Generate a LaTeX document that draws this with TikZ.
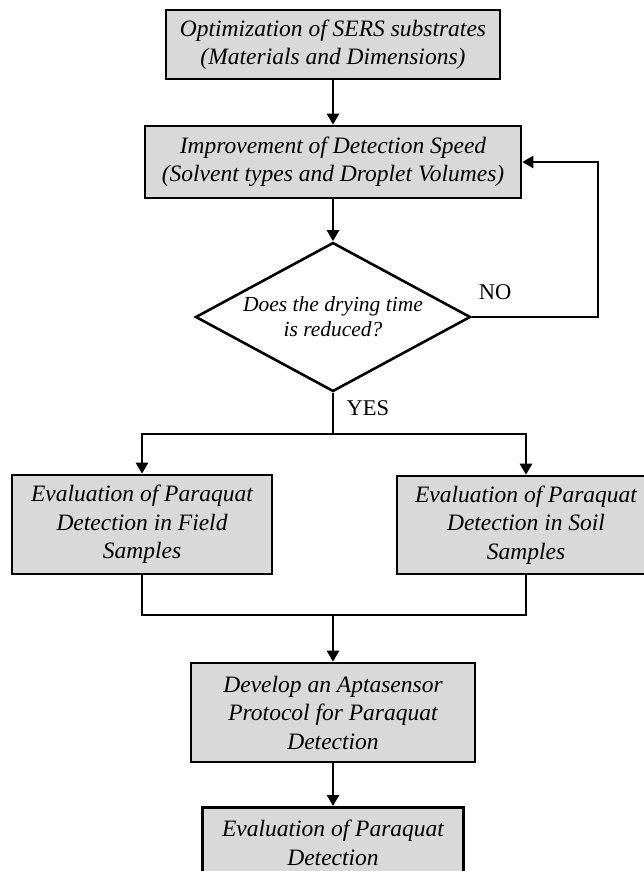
\documentclass[tikz,border=0pt]{standalone}
\usepackage{fontspec}
\setmainfont{Liberation Serif}
\usetikzlibrary{arrows.meta,shapes.geometric}
\definecolor{boxgray}{HTML}{D9D9D9}
\tikzset{
  procbox/.style={draw=black, line width=2.6pt, fill=boxgray, inner sep=0pt,
    align=center, font=\fontsize{23.5}{28.5}\selectfont\itshape},
  decbox/.style={draw=black, line width=2.6pt, fill=white, diamond, inner sep=0pt,
    aspect=1.85, minimum width=275pt, minimum height=149pt,
    align=center, font=\fontsize{21.5}{25}\selectfont\itshape},
  conn/.style={line width=2.5pt, draw=black},
  arr/.style={conn, -{Triangle[length=11pt,width=12pt]}},
  lbl/.style={font=\fontsize{22.5}{26}\selectfont, inner sep=0pt}
}
\begin{document}
\begin{tikzpicture}[x=1pt,y=-1pt]
\useasboundingbox (0,0) rectangle (644,871);
\clip (0,0) rectangle (644,871);
\fill[white] (0,0) rectangle (644,871);

\node[procbox, minimum width=334pt, minimum height=69pt] (b1) at (333,44.5)
  {Optimization of SERS substrates\\(Materials and Dimensions)};
\node[procbox, minimum width=376pt, minimum height=72pt] (b2) at (333,162)
  {Improvement of Detection Speed\\(Solvent types and Droplet Volumes)};
\node[decbox] (dec) at (333,317) {Does the drying time\\is reduced?};
\node[procbox, minimum width=260pt, minimum height=99pt] (lbox) at (142,524.5)
  {Evaluation of Paraquat\\Detection in Field\\Samples};
\node[procbox, minimum width=258pt, minimum height=98pt] (rbox) at (526,525)
  {Evaluation of Paraquat\\Detection in Soil\\Samples};
\node[procbox, minimum width=284pt, minimum height=99pt] (dev) at (333,712.5)
  {Develop an Aptasensor\\Protocol for Paraquat\\Detection};
\node[procbox, minimum width=261pt, minimum height=99pt, anchor=north] (last) at (333,806)
  {Evaluation of Paraquat\\Detection\\\phantom{X}};

\coordinate (fb) at (598,317);
\coordinate (split) at (333,434);
\coordinate (join) at (333,615);

\draw[arr] (b1.south) -- (b2.north);
\draw[arr] (b2.south) -- (dec.north);
\draw[arr] (dec.east) -- (fb) |- (b2.east);
\draw[conn] (dec.south) -- (split);
\draw[arr] (split) -| (lbox.north);
\draw[arr] (split) -| (rbox.north);
\draw[conn] (lbox.south) |- (join) -| (rbox.south);
\draw[arr] (join) -- (dev.north);
\draw[arr] (dev.south) -- (last.north);

\node[lbl] (no) at (495,292) {NO};
\node[lbl] (yes) at (368,408) {YES};
\end{tikzpicture}
\end{document}
